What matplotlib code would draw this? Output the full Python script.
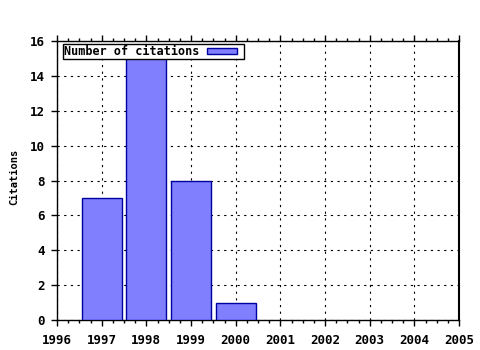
import numpy as np
import matplotlib
matplotlib.use("Agg")
import matplotlib.pyplot as plt
from matplotlib.ticker import MultipleLocator
from matplotlib.patches import Rectangle
from matplotlib.legend_handler import HandlerPatch
from matplotlib.container import BarContainer

years = [1997, 1998, 1999, 2000]
citations = [7, 15, 8, 1]
xticks = list(range(1996, 2006))
yticks = list(range(0, 17, 2))

plt.rcParams['font.family'] = 'DejaVu Sans Mono'
plt.rcParams['font.weight'] = 'bold'
plt.rcParams['axes.labelweight'] = 'bold'
plt.rcParams['font.size'] = 9

fig = plt.figure(figsize=(4.8, 3.5), dpi=100)
ax = fig.add_axes([57/480, 30/350, 402/480, 279/350])

bars = ax.bar(years, citations, width=0.9, color='#8080ff', edgecolor='#0000a0',
              linewidth=1, label='Number of citations', zorder=3)

ax.set_xlim(1996, 2005)
ax.set_ylim(0, 16)
ax.set_xticks(xticks)
ax.set_yticks(yticks)
ax.xaxis.set_minor_locator(MultipleLocator(0.25))
ax.grid(True, which='major', color='black', linestyle=(0, (2, 4)), linewidth=0.8, zorder=0)
ax.tick_params(which='both', direction='out', top=True, right=False, width=1, color='black')
ax.tick_params(axis='x', pad=6)
ax.tick_params(axis='y', pad=5)
ax.tick_params(which='major', length=4)
ax.tick_params(which='minor', length=2)
ax.spines['left'].set_linewidth(1)
ax.spines['bottom'].set_linewidth(1)
ax.spines['top'].set_linewidth(1)
ax.spines['right'].set_linewidth(1.5)

# y label placed by hand, gnuplot style
fig.text(14/480, 1 - 177/350, 'Citations', rotation=90, ha='center', va='center',
         fontsize=7.5, fontweight='bold')


def short_box(legend, orig_handle, xdescent, ydescent, width, height, fontsize):
    # leave a little room on the right of the key, like gnuplot
    return Rectangle((-xdescent, -ydescent), width * 0.83, height)


leg = ax.legend(handles=[bars[0]], labels=['Number of citations'],
                handler_map={Rectangle: HandlerPatch(patch_func=short_box)},
                loc='upper left', bbox_to_anchor=(6/402, 1 - 3/279), markerfirst=False,
                frameon=True, fancybox=False, framealpha=1, prop={'size': 8.5, 'weight': 'bold'},
                borderpad=0.1, borderaxespad=0, handlelength=3.1, handleheight=0.45,
                handletextpad=0.6, edgecolor='black')
leg.get_frame().set_linewidth(1)

fig.savefig('out.png', dpi=100)
